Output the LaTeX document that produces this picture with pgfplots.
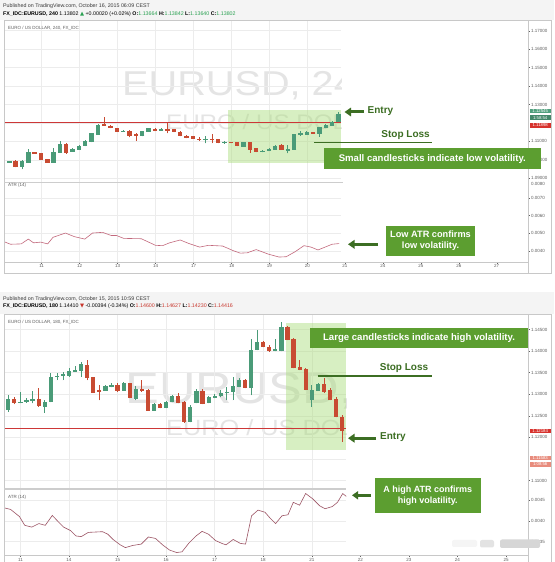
\documentclass[border=0pt]{standalone}
\usepackage{fontspec}
\setmainfont{Liberation Sans}
\newfontfamily\symfont{DejaVu Sans}
\usepackage{graphicx}
\usepackage{pgfplots}
\usepackage{pgfplotstable}
\pgfplotsset{compat=1.18}
\usetikzlibrary{arrows.meta}

\definecolor{cgreen}{RGB}{74,155,120}
\definecolor{cred}{RGB}{200,75,50}
\definecolor{lvl}{RGB}{205,55,55}
\definecolor{atrc}{RGB}{195,105,125}
\definecolor{gridc}{RGB}{236,236,236}
\definecolor{framec}{RGB}{200,200,200}
\definecolor{sepc}{RGB}{205,205,205}
\definecolor{boxg}{RGB}{92,158,48}
\definecolor{darkg}{RGB}{60,110,35}
\definecolor{shadeg}{RGB}{168,220,120}
\definecolor{wm}{RGB}{228,228,228}
\definecolor{hdrbg}{RGB}{244,244,244}
\definecolor{upg}{RGB}{40,160,80}
\definecolor{dnr}{RGB}{200,55,45}
\definecolor{tickc}{RGB}{95,95,95}
\definecolor{lblg}{RGB}{80,160,125}
\definecolor{lblr}{RGB}{215,50,45}
\definecolor{lblp}{RGB}{232,140,125}

% top panel: 4-hour candles, x = bar index
\pgfplotstableread{
x o h l c
0 1.09901 1.09937 1.09865 1.09910
1 1.09901 1.09955 1.09847 1.09910
2 1.09955 1.09992 1.09594 1.09630
3 1.09630 1.09992 1.09486 1.09937
4 1.09865 1.10588 1.09847 1.10407
5 1.10407 1.10443 1.10317 1.10353
6 1.10353 1.10389 1.09992 1.10028
7 1.10028 1.10064 1.09847 1.09865
8 1.09865 1.10624 1.09847 1.10407
9 1.10407 1.11040 1.10389 1.10859
10 1.10859 1.10895 1.10317 1.10407
11 1.10461 1.10624 1.10443 1.10588
12 1.10588 1.10805 1.10570 1.10769
13 1.10769 1.11058 1.10750 1.11021
14 1.10985 1.11473 1.10967 1.11437
15 1.11401 1.11925 1.11383 1.11889
16 1.11925 1.12304 1.11835 1.11853
17 1.11853 1.11889 1.11726 1.11762
18 1.11708 1.11744 1.11510 1.11528
19 1.11546 1.11618 1.11510 1.11582
20 1.11582 1.11618 1.11220 1.11347
21 1.11401 1.11437 1.11040 1.11347
22 1.11311 1.11582 1.11275 1.11546
23 1.11528 1.11744 1.11510 1.11708
24 1.11672 1.11708 1.11546 1.11582
25 1.11618 1.11708 1.11582 1.11672
26 1.11672 1.11979 1.11437 1.11618
27 1.11654 1.11690 1.11491 1.11528
28 1.11528 1.11564 1.11275 1.11311
29 1.11311 1.11347 1.11166 1.11220
30 1.11293 1.11311 1.11148 1.11166
31 1.11148 1.11256 1.11040 1.11112
32 1.11112 1.11293 1.10895 1.11148
33 1.11148 1.11401 1.10895 1.11112
34 1.11112 1.11148 1.10895 1.10931
35 1.10931 1.11021 1.10877 1.10949
36 1.10949 1.10985 1.10895 1.10931
37 1.10949 1.10985 1.10750 1.10769
38 1.10750 1.10985 1.10714 1.10949
39 1.10949 1.10985 1.10389 1.10570
40 1.10624 1.10660 1.10425 1.10443
41 1.10479 1.10552 1.10407 1.10498
42 1.10498 1.10624 1.10479 1.10588
43 1.10570 1.10805 1.10552 1.10769
44 1.10805 1.10841 1.10570 1.10588
45 1.10534 1.10805 1.10353 1.10588
46 1.10588 1.11419 1.10570 1.11383
47 1.11401 1.11582 1.11293 1.11437
48 1.11401 1.11564 1.11365 1.11528
49 1.11491 1.11528 1.11401 1.11437
50 1.11437 1.11799 1.11256 1.11762
51 1.11744 1.11925 1.11708 1.11889
52 1.11853 1.12106 1.11835 1.12070
53 1.12070 1.12612 1.12052 1.12485
}\toptab

\pgfplotstableread{
x atr
0.19 0.00453
1.2 0.00439
2.88 0.00441
4.0 0.00468
4.83 0.00447
5.94 0.00451
7.06 0.00441
7.9 0.00478
9.86 0.00502
11.25 0.00482
12.92 0.00468
14.15 0.00502
15.72 0.00506
17.11 0.00488
17.95 0.00488
19.07 0.00472
21.85 0.00470
24.09 0.00433
25.2 0.00431
26.32 0.00447
27.99 0.00463
29.38 0.00443
31.06 0.00423
32.46 0.00433
34.69 0.00429
36.37 0.00403
37.49 0.00389
38.59 0.00391
40.0 0.00409
41.96 0.00383
43.63 0.00367
44.74 0.00369
46.15 0.00397
47.54 0.00431
48.66 0.00423
49.76 0.00407
50.88 0.00423
52.0 0.00439
53.11 0.00443
}\topatr

% bottom panel: 3-hour candles
\pgfplotstableread{
x o h l c
0 1.12656 1.12981 1.12594 1.12888
1 1.12888 1.12942 1.12772 1.12803
2 1.12803 1.13058 1.12787 1.12826
3 1.12826 1.12903 1.12803 1.12865
4 1.12865 1.13081 1.12787 1.12888
5 1.12888 1.13135 1.12710 1.12733
6 1.12726 1.12865 1.12571 1.12826
7 1.12826 1.13499 1.12818 1.13406
8 1.13406 1.13499 1.13328 1.13429
9 1.13429 1.13522 1.13328 1.13460
10 1.13429 1.13599 1.13406 1.13545
11 1.13537 1.13653 1.13522 1.13560
12 1.13560 1.13738 1.13406 1.13700
13 1.13684 1.13792 1.13328 1.13390
14 1.13390 1.13406 1.13035 1.13042
15 1.13097 1.13213 1.12865 1.13073
16 1.13097 1.13213 1.13081 1.13189
17 1.13189 1.13267 1.13158 1.13213
18 1.13213 1.13251 1.13058 1.13081
19 1.13097 1.13290 1.13081 1.13251
20 1.13251 1.13267 1.12903 1.12927
21 1.12903 1.13189 1.12865 1.13120
22 1.13120 1.13328 1.13058 1.13081
23 1.13097 1.13112 1.12617 1.12633
24 1.12633 1.12787 1.12617 1.12764
25 1.12764 1.12787 1.12671 1.12687
26 1.12687 1.12849 1.12671 1.12826
27 1.12826 1.12981 1.12811 1.12965
28 1.12958 1.13019 1.12788 1.12803
29 1.12826 1.12849 1.12339 1.12362
30 1.12362 1.12749 1.12347 1.12710
31 1.12803 1.13112 1.12788 1.13074
32 1.13074 1.13112 1.12772 1.12788
33 1.12803 1.12958 1.12788 1.12927
34 1.12927 1.13004 1.12904 1.12958
35 1.12981 1.13097 1.12927 1.13035
36 1.13035 1.13159 1.12865 1.13058
37 1.13058 1.13406 1.12865 1.13190
38 1.13174 1.13367 1.13159 1.13329
39 1.13329 1.13344 1.13135 1.13159
40 1.13159 1.14272 1.12981 1.14024
41 1.14040 1.14488 1.14024 1.14218
42 1.14218 1.14241 1.14086 1.14102
43 1.14102 1.14140 1.13986 1.14009
44 1.14009 1.14272 1.13993 1.14040
45 1.14009 1.14681 1.13993 1.14565
46 1.14565 1.14589 1.14256 1.14272
47 1.14272 1.14295 1.13599 1.13622
48 1.13638 1.13792 1.13561 1.13576
49 1.13576 1.13599 1.13097 1.13120
50 1.12880 1.13213 1.12710 1.13097
51 1.13097 1.13251 1.13081 1.13236
52 1.13236 1.13367 1.13035 1.13058
53 1.13097 1.13135 1.12865 1.12880
54 1.12880 1.12927 1.12463 1.12478
55 1.12478 1.12517 1.11899 1.12154
}\bottab

\pgfplotstableread{
x atr
-0.79 0.004315
0.38 0.004273
1.83 0.004103
2.71 0.003891
3.87 0.003848
5.04 0.003933
6.09 0.003891
7.25 0.004128
8.24 0.003976
9.11 0.003848
10.28 0.003763
11.15 0.003636
12.02 0.003619
13.18 0.003721
15.52 0.003738
16.39 0.003678
17.26 0.003551
18.43 0.003423
19.29 0.003355
20.46 0.003406
21.91 0.003440
23.08 0.003610
24.25 0.003576
25.41 0.003423
26.57 0.003296
27.74 0.003237
28.62 0.003254
29.77 0.003466
30.94 0.003636
31.93 0.003746
32.98 0.003678
34.14 0.003525
35.31 0.003449
35.88 0.003423
37.05 0.003551
38.22 0.003457
39.09 0.003440
40.08 0.004120
41.14 0.004256
42.29 0.004205
43.16 0.004060
44.04 0.003933
45.09 0.004120
46.08 0.004145
46.95 0.004443
47.99 0.004375
48.99 0.004655
50.15 0.004528
51.32 0.004358
52.19 0.004290
53.36 0.004341
54.23 0.004443
55.1 0.004655
55.68 0.004587
}\botatr

\pgfplotsset{
  pane/.style={scale only axis, axis line style={draw=none}, clip=true,
    scaled ticks=false, tick style={draw=tickc, line width=0.3pt},
    major tick length=1.8pt, tick align=outside,
    ytick pos=right, yticklabel pos=right,
    yticklabel style={font=\fontsize{4.5}{5}\selectfont, text=tickc, inner sep=1pt},
    xticklabel style={font=\fontsize{4.5}{5}\selectfont, text=tickc, inner sep=0.6pt},
    /pgf/number format/assume math mode=true},
}

% #1 table, #2 body width, #3 half body width
\newcommand{\candles}[3]{%
\addplot[forget plot, only marks, mark=*, mark size=0pt, draw=none, fill=none, restrict expr to domain={\thisrow{c}-\thisrow{o}}{0:1},
  error bars/.cd, y dir=plus, y explicit, error mark=none, error bar style={draw=cgreen, line width=0.7pt}]
  table[x=x, y=l, y error expr=\thisrow{h}-\thisrow{l}] {#1};
\addplot[forget plot, only marks, mark=*, mark size=0pt, draw=none, fill=none, restrict expr to domain={\thisrow{o}-\thisrow{c}}{0:1},
  error bars/.cd, y dir=plus, y explicit, error mark=none, error bar style={draw=cred, line width=0.7pt}]
  table[x=x, y=l, y error expr=\thisrow{h}-\thisrow{l}] {#1};
\addplot[forget plot, only marks, mark=-, mark size=#3, mark options={draw=cgreen, line width=0.9pt},
  restrict expr to domain={\thisrow{c}-\thisrow{o}}{0:1},
  error bars/.cd, y dir=plus, y explicit, error mark=none, error bar style={draw=cgreen, line width=#2}]
  table[x=x, y=o, y error expr=\thisrow{c}-\thisrow{o}] {#1};
\addplot[forget plot, only marks, mark=-, mark size=#3, mark options={draw=cred, line width=0.9pt},
  restrict expr to domain={\thisrow{o}-\thisrow{c}}{0:1},
  error bars/.cd, y dir=plus, y explicit, error mark=none, error bar style={draw=cred, line width=#2}]
  table[x=x, y=c, y error expr=\thisrow{o}-\thisrow{c}] {#1};
}

\begin{document}
\begin{tikzpicture}[x=1pt,y=1pt]
\useasboundingbox (0,0) rectangle (554,562);
\fill[white] (0,0) rectangle (554,562);
\fill[hdrbg] (0,541.5) rectangle (554,562);
\fill[hdrbg] (0,247.7) rectangle (554,270);

% ---------- headers ----------
\node[anchor=west, inner sep=0, font=\fontsize{5.3}{6}\selectfont, text={rgb,255:red,55;green,55;blue,55}] at (3,555.6)
  {Published on TradingView.com, October 16, 2015 06:09 CEST};
\node[anchor=west, inner sep=0, font=\fontsize{5.3}{6}\selectfont] at (3,548)
  {\textbf{FX\_IDC:EURUSD, 240} 1.13802 {\symfont\color{upg}▲} +0.00020 (+0.02\%) \textbf{O:}{\color{upg}1.13664} \textbf{H:}{\color{upg}1.13842} \textbf{L:}{\color{upg}1.13640} \textbf{C:}{\color{upg}1.13802}};
\node[anchor=west, inner sep=0, font=\fontsize{5.3}{6}\selectfont, text={rgb,255:red,55;green,55;blue,55}] at (3,262.6)
  {Published on TradingView.com, October 15, 2015 10:59 CEST};
\node[anchor=west, inner sep=0, font=\fontsize{5.3}{6}\selectfont] at (3,255.5)
  {\textbf{FX\_IDC:EURUSD, 180} 1.14410 {\symfont\color{dnr}▼} -0.00394 (-0.34\%) \textbf{O:}{\color{dnr}1.14600} \textbf{H:}{\color{dnr}1.14627} \textbf{L:}{\color{dnr}1.14230} \textbf{C:}{\color{dnr}1.14416}};

% ---------- watermarks ----------
\begin{scope}
\clip (4.2,379.4) rectangle (341,541.5);
\node[anchor=base west, inner sep=0, text=wm, font=\fontsize{34.5}{36}\selectfont] at (122,466.6) {\scalebox{1.15}[1]{EURUSD, 240}};
\node[anchor=base west, inner sep=0, text=wm, font=\fontsize{21}{22}\selectfont] at (166,432.4) {\scalebox{1.15}[1]{EURO / US DOLLAR}};
\end{scope}
\begin{scope}
\clip (4.2,73) rectangle (346,247.7);
\node[anchor=base west, inner sep=0, text=wm, font=\fontsize{44}{46}\selectfont] at (125.4,158.7) {\scalebox{1.15}[1]{EURUSD, 180}};
\node[anchor=base west, inner sep=0, text=wm, font=\fontsize{22}{23}\selectfont] at (166,126.6) {\scalebox{1.15}[1]{EURO / US DOLLAR}};
\end{scope}

% ================= TOP PANEL =================
\begin{axis}[pane, at={(4.2pt,379.4pt)}, anchor=south west, width=523.8pt, height=162.1pt,
  xmin=0.19, xmax=82.94, ymin=1.08767, ymax=1.17553, xtick=\empty,
  ytick={1.09,1.10,1.11,1.13,1.14,1.15,1.16,1.17},
  yticklabel style={/pgf/number format/.cd, fixed, fixed zerofill, precision=5}]
\pgfplotsinvokeforeach{1.09,1.10,1.11,1.12,1.13,1.14,1.15,1.16,1.17}{\draw[gridc, line width=0.5pt] (axis cs:0.19,#1) -- (axis cs:53.4,#1);}
\pgfplotsinvokeforeach{6.1,12.1,18.1,24.1,30.1,36.1,42.1,48.1}{\draw[gridc, line width=0.5pt] (axis cs:#1,1.08767) -- (axis cs:#1,1.17553);}
\fill[shadeg, opacity=0.45] (axis cs:35.55,1.09813) rectangle (axis cs:53.4,1.12702);
\addplot[forget plot, lvl, line width=1.4pt] coordinates {(0.19,1.1203) (53.4,1.1203)};
\candles{\toptab}{4.4pt}{2.2pt}
\end{axis}

\begin{axis}[pane, at={(4.2pt,300pt)}, anchor=south west, width=523.8pt, height=79.4pt,
  xmin=0.19, xmax=82.94, ymin=0.003393, ymax=0.007854,
  xtick={6.1,12.1,18.1,24.1,30.1,36.1,42.1,48.1,54,60,66,72,78},
  xticklabels={11,12,13,14,17,18,19,20,21,24,25,26,27}, xtick pos=bottom,
  ytick={0.004,0.005,0.006,0.007},
  yticklabel style={/pgf/number format/.cd, fixed, fixed zerofill, precision=4}]
\pgfplotsinvokeforeach{0.004,0.005,0.006,0.007}{\draw[gridc, line width=0.5pt] (axis cs:0.19,#1) -- (axis cs:53.4,#1);}
\pgfplotsinvokeforeach{6.1,12.1,18.1,24.1,30.1,36.1,42.1,48.1}{\draw[gridc, line width=0.5pt] (axis cs:#1,0.003393) -- (axis cs:#1,0.007854);}
\addplot[atrc, line width=0.6pt, mark=none] table[x=x, y=atr] {\topatr};
\end{axis}

% ================= BOTTOM PANEL =================
\begin{axis}[pane, at={(4.2pt,73pt)}, anchor=south west, width=523.8pt, height=174.7pt,
  xmin=-0.675, xmax=85.62, ymin=1.10803, ymax=1.14852, xtick=\empty,
  ytick={1.110,1.120,1.125,1.130,1.135,1.140,1.145},
  yticklabel style={/pgf/number format/.cd, fixed, fixed zerofill, precision=5}]
\pgfplotsinvokeforeach{1.110,1.115,1.120,1.125,1.130,1.135,1.140,1.145}{\draw[gridc, line width=0.5pt] (axis cs:-0.675,#1) -- (axis cs:55.63,#1);}
\pgfplotsinvokeforeach{2,10,18,26,34,42,50}{\draw[gridc, line width=0.5pt] (axis cs:#1,1.10803) -- (axis cs:#1,1.14852);}
\fill[shadeg, opacity=0.45] (axis cs:45.67,1.11718) rectangle (axis cs:55.63,1.14644);
\addplot[forget plot, lvl, line width=1.4pt] coordinates {(-0.675,1.1220) (55.63,1.1220)};
\candles{\bottab}{4.2pt}{2.1pt}
\end{axis}

\begin{axis}[pane, at={(4.2pt,6.6pt)}, anchor=south west, width=523.8pt, height=66.4pt,
  xmin=-0.675, xmax=85.62, ymin=0.003168, ymax=0.004764,
  xtick={2,10,18,26,34,42,50,58,66,74,82},
  xticklabels={11,14,15,16,17,18,21,22,23,24,25}, xtick pos=bottom,
  ytick={0.0035,0.004,0.0045},
  yticklabel style={/pgf/number format/.cd, fixed, fixed zerofill, precision=4}]
\pgfplotsinvokeforeach{0.0035,0.004,0.0045}{\draw[gridc, line width=0.5pt] (axis cs:-0.675,#1) -- (axis cs:55.63,#1);}
\pgfplotsinvokeforeach{2,10,18,26,34,42,50}{\draw[gridc, line width=0.5pt] (axis cs:#1,0.003168) -- (axis cs:#1,0.004764);}
\addplot[atrc!80!black, line width=0.6pt, mark=none] table[x=x, y=atr] {\botatr};
\end{axis}

% ---------- frames ----------
\draw[framec, line width=0.8pt] (4.2,288.4) rectangle (551,541.5);
\draw[framec, line width=0.6pt] (528,288.4) -- (528,541.5);
\draw[sepc, line width=1.5pt] (4.2,379.4) -- (343,379.4);
\draw[framec, line width=0.8pt] (4.2,300) -- (528,300);
\draw[framec, line width=0.8pt] (4.2,-2) rectangle (551,247.7);
\draw[framec, line width=0.6pt] (528,-2) -- (528,247.7);
\draw[sepc, line width=1.5pt] (4.2,73) -- (346,73);
\draw[framec, line width=0.8pt] (4.2,6.6) -- (528,6.6);

% price-scale labels (top)
\node[fill=lblg, text=white, font=\fontsize{4.3}{5}\selectfont, inner sep=0.6pt, minimum width=21pt, anchor=west] at (529.5,450.8) {1.12545};
\node[fill=lblg!85!black, text=white, font=\fontsize{4.3}{5}\selectfont, inner sep=0.6pt, minimum width=21pt, anchor=west] at (529.5,444.4) {1:58:54};
\node[fill=lblr, text=white, font=\fontsize{4.3}{5}\selectfont, inner sep=0.6pt, minimum width=21pt, anchor=west] at (529.5,436.5) {1.11898};
% price-scale labels (bottom)
\node[fill=lblr, text=white, font=\fontsize{4.3}{5}\selectfont, inner sep=0.6pt, minimum width=21pt, anchor=west] at (529.5,131.2) {1.12184};
\node[fill=lblp, text=white, font=\fontsize{4.3}{5}\selectfont, inner sep=0.6pt, minimum width=21pt, anchor=west] at (529.5,103.7) {1.11583};
\node[fill=lblp, text=white, font=\fontsize{4.3}{5}\selectfont, inner sep=0.6pt, minimum width=21pt, anchor=west] at (529.5,97.5) {1:08:56};

\node[anchor=west, inner sep=0, font=\fontsize{4.5}{5}\selectfont, text=tickc] at (8,533.7) {EURO / US DOLLAR, 240, FX\_IDC};
\node[anchor=west, inner sep=0, font=\fontsize{4.5}{5}\selectfont, text=tickc] at (8,376.2) {ATR (14)};
\node[anchor=west, inner sep=0, font=\fontsize{4.5}{5}\selectfont, text=tickc] at (530.8,378.3) {0.0080};
\node[anchor=west, inner sep=0, font=\fontsize{4.5}{5}\selectfont, text=tickc] at (8,239.6) {EURO / US DOLLAR, 180, FX\_IDC};
\node[anchor=west, inner sep=0, font=\fontsize{4.5}{5}\selectfont, text=tickc] at (8,65) {ATR (14)};

% ---------- annotations: top ----------
\draw[darkg, line width=3pt, -{Triangle[width=8.5pt,length=6.5pt]}] (364,450) -- (344.5,450);
\node[anchor=west, text=darkg, font=\bfseries\fontsize{10}{12}\selectfont, inner sep=0] at (367.5,451) {Entry};
\node[text=darkg, font=\bfseries\fontsize{10}{12}\selectfont, inner sep=0] at (405.6,427) {Stop Loss};
\draw[darkg, line width=1.5pt] (313.8,419.7) -- (431.8,419.7);
\node[fill=boxg, text=white, font=\bfseries\fontsize{9.6}{11}\selectfont, minimum width=216.6pt, minimum height=21.2pt, inner sep=0] at (432.3,403.1) {Small candlesticks indicate low volatility.};
\draw[darkg, line width=3pt, -{Triangle[width=8.5pt,length=6.5pt]}] (378,317.7) -- (348,317.7);
\node[fill=boxg, text=white, font=\bfseries\fontsize{9.2}{11.2}\selectfont, minimum width=89pt, minimum height=30pt, align=center, inner sep=0] at (430.5,321) {Low ATR confirms\\low volatility.};

% ---------- annotations: bottom ----------
\node[fill=boxg, text=white, font=\bfseries\fontsize{9.6}{11}\selectfont, minimum width=218pt, minimum height=20.1pt, inner sep=0] at (419,224.25) {Large candlesticks indicate high volatility.};
\node[text=darkg, font=\bfseries\fontsize{10}{12}\selectfont, inner sep=0] at (404,194) {Stop Loss};
\draw[darkg, line width=1.5pt] (317.5,186) -- (432,186);
\draw[darkg, line width=3pt, -{Triangle[width=8.5pt,length=6.5pt]}] (376,123.8) -- (348,123.8);
\node[anchor=west, text=darkg, font=\bfseries\fontsize{10}{12}\selectfont, inner sep=0] at (380,124.5) {Entry};
\draw[darkg, line width=3pt, -{Triangle[width=8pt,length=6pt]}] (371,66.7) -- (352,66.7);
\node[fill=boxg, text=white, font=\bfseries\fontsize{9}{11.5}\selectfont, minimum width=106.4pt, minimum height=34.6pt, align=center, inner sep=0] at (427.8,66.3) {A high ATR confirms\\high volatility.};

% blurred corner mark
\fill[gray!8, rounded corners=2pt] (452,15) rectangle (477,22);
\fill[gray!22, rounded corners=2pt] (480,14.5) rectangle (494,22);
\fill[gray!32, rounded corners=2pt] (500,14) rectangle (540,22.5);
\end{tikzpicture}
\end{document}
